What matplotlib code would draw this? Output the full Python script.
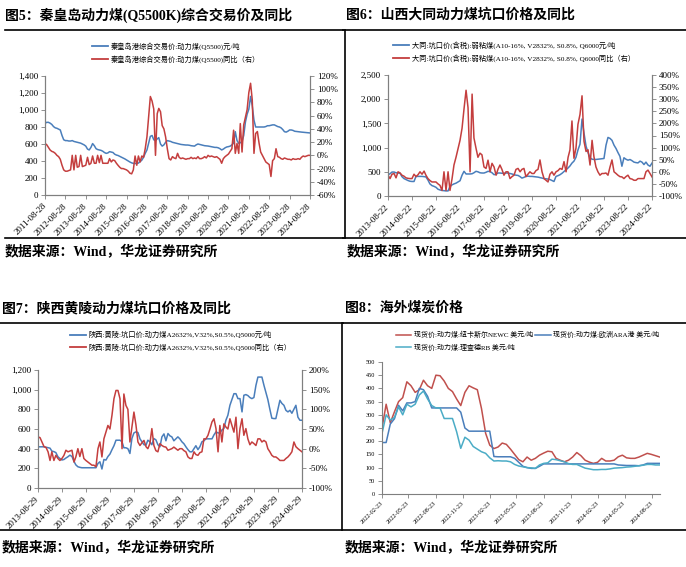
import pandas as pd
import matplotlib
matplotlib.use('Agg')
import matplotlib.pyplot as plt
from matplotlib.lines import Line2D

'''four coal price panels: Qinhuangdao, Datong, Huangling, overseas'''

plt.rcParams['font.family'] = ['Liberation Serif', 'Noto Sans CJK SC']

# ---- fig 5: Qinhuangdao price (yuan/t) and yoy (%), monthly from 2011-08
qhd_price = [
    843, 855, 855, 845, 830, 805, 790, 785, 775, 765, 700, 650,
    640, 640, 635, 635, 640, 630, 625, 620, 615, 610, 600, 590,
    575, 540, 530, 560, 605, 580, 545, 535, 530, 525, 515, 500,
    490, 495, 510, 505, 500, 480, 470, 465, 455, 445, 435, 425,
    412, 400, 388, 378, 372, 370, 372, 375, 392, 410, 443, 490,
    530, 610, 690, 700, 650, 640, 660, 675, 600, 575, 590, 620,
    640, 635, 630, 620, 615, 610, 605, 600, 595, 592, 590, 588,
    588, 585, 580, 578, 575, 590, 600, 595, 590, 585, 580, 578,
    576, 572, 568, 565, 560, 560, 555, 545, 530, 540, 555, 565,
    569, 575, 590, 610, 745, 640, 608, 615, 630, 700, 860, 950,
    1010, 1160, 1050, 880, 800, 800, 800, 800, 800, 800, 805, 815,
    815, 820, 825, 825, 815, 805, 800, 790, 770, 745, 740, 750,
    765, 765, 760, 750, 748, 745, 742, 740, 738, 735, 735, 733,
    730]
qhd_yoy = [
    18, 16, 12, 8, 6, 5, 3, 0, -2, -6, -15, -22,
    -24, -24, -23, -22, 0, -22, 0, -18, -17, 0, -17, -16,
    -15, -3, -14, -12, -1, -12, -12, 0, -11, 0, -12, -12,
    -12, -12, -5, -10, -7, -8, -12, -15, -18, -20, -20, -21,
    -22, -24, -27, -28, -22, -1, -15, -1, -10, -1, -3, 10,
    28, 60, 89, 82, 70, 0, 63, 71, 66, 45, 40, 28,
    10, -5, -7, -2, -4, -5, 3, -3, -5, -4, -5, -6,
    -5, -5, -3, -5, -4, -5, -2, -5, -5, -4, -2, -4,
    0, -2, -1, -2, -3, -2, -4, -6, -12, -5, -2, 0,
    2, 6, 10, 38, 3, 18, 3, 48, 5, 46, 58, 69,
    95, 109, 84, 3, 33, 36, 18, 5, 0, -5, -10, -12,
    -14, -32, -8, -5, 10, -2, -3, -5, -6, -4, -5, -6,
    -6, -7, -5, -6, -6, -5, -6, -3, -1, -2, -1, 0,
    0]

# ---- fig 6: Datong pit-mouth price and yoy, monthly from 2013-08
dt_price = [
    440, 460, 495, 495, 480, 475, 470, 400, 360, 340, 320, 305,
    300, 300, 405, 405, 405, 405, 400, 395, 330, 250, 215, 200,
    180, 140, 125, 115, 110, 105, 105, 195, 230, 250, 265, 290,
    315, 430, 510, 455, 455, 455, 460, 480, 510, 500, 480, 475,
    475, 490, 510, 505, 480, 440, 450, 475, 475, 470, 470, 475,
    475, 465, 455, 440, 430, 425, 400, 370, 385, 405, 410, 405,
    405, 400, 395, 390, 380, 370, 360, 356, 350, 340, 320, 300,
    405, 420, 440, 470, 505, 540, 580, 620, 680, 720, 800, 950,
    1070, 1590, 1300, 1030, 900, 790, 760, 755, 755, 760, 765, 770,
    775, 1050, 1210, 1190, 1150, 1050, 980, 900, 820, 615, 790, 760,
    740, 754, 730, 700, 690, 684, 720, 700, 650, 700, 640, 615,
    680]
dt_yoy = [
    -14, -28, -10, -7, -25, 0, -5, -14, -18, -25, -27, -28,
    -28, -10, -20, -12, 0, -10, 3, -14, -28, -36, -42, -42,
    -42, -50, -56, -77, 0, -77, 0, -77, -30, 28, 60, 95,
    130, 180, 260, 337, 265, 0, 321, 140, 98, 60, 77, 70,
    20, 14, 48, 0, 35, 20, -14, 10, 28, 10, -14, 0,
    0, -28, -20, -14, 10, 14, 0, 10, 14, -20, -10, 0,
    -7, -7, 5, 10, 49, 0, -28, -35, -42, -10, 0, -14,
    0, 5, 14, 10, 42, 0, 60, 90, 210, 56, 98, 196,
    237, 314, 126, 84, 91, 28, 130, 63, 20, 0, -14, -7,
    -7, -5, -14, 20, 49, 0, -7, -14, -20, -21, -28, -20,
    -14, -28, -30, -35, -35, -28, -28, -28, -28, 0, 7, -7,
    -21]

# ---- fig 7: Huangling pit-mouth price and yoy, monthly from 2013-08
hl_price = [
    419, 419, 419, 419, 415, 410, 405, 375, 370, 360, 318, 300,
    285, 290, 305, 318, 334, 320, 270, 235, 216, 210, 206, 206,
    206, 206, 206, 206, 206, 206, 250, 267, 193, 290, 284, 320,
    345, 390, 430, 486, 486, 486, 470, 409, 409, 400, 351, 503,
    560, 571, 564, 500, 470, 440, 436, 486, 470, 440, 503, 490,
    440, 419, 520, 550, 480, 554, 530, 520, 480, 500, 520, 500,
    470, 450, 419, 390, 368, 368, 400, 430, 390, 420, 470, 480,
    500, 500, 500, 500, 540, 571, 560, 560, 590, 605, 690, 740,
    841, 900, 959, 959, 909, 909, 774, 943, 950, 940, 920, 909,
    920, 1044, 1128, 1128, 1128, 1044, 970, 900, 800, 710, 706, 706,
    800, 892, 860, 841, 790, 774, 790, 760, 800, 841, 720, 689,
    689]
hl_yoy = [
    30, 28, 17, 5, 3, -8, -30, -8, -30, -17, -25, -30,
    -25, -17, -4, -8, -6, -4, -34, -21, 0, -20, 0, -25,
    -30, -34, -38, -42, -42, -46, 0, 17, -21, 25, 42, 59,
    50, 85, 127, 148, 148, 127, 0, 139, 110, 100, 17, 55,
    93, 60, 17, 8, 15, 21, 5, 0, 13, 51, 8, -5,
    -8, 13, 8, 5, 4, -4, -2, 0, 4, 0, -4, 0,
    0, -5, -8, -21, -25, -25, -8, -15, -17, -10, -8, 25,
    25, 34, 50, 68, 76, 51, -8, 59, 17, 63, 55, 50,
    76, 59, 42, 80, 0, 51, 76, 34, 51, 25, 10, 17,
    13, 8, 25, 25, 17, 21, 17, 0, -8, -17, -21, -21,
    -25, -30, -30, -30, -25, -21, -15, -8, 17, 5, 0, -4,
    -8]

# ---- fig 8: overseas spot prices (usd/t), every two weeks from 2022-02-23
newc = [250, 340, 270, 311, 350, 365, 425, 410, 385, 395,
        431, 410, 400, 450, 448, 428, 400, 388, 360, 335,
        385, 410, 402, 395, 324, 230, 185, 172, 178, 193,
        188, 170, 150, 130, 122, 140, 128, 135, 147, 155,
        162, 160, 135, 128, 122, 128, 140, 157, 145, 128,
        121, 116, 120, 135, 125, 125, 128, 141, 147, 137,
        135, 135, 140, 147, 154, 150, 145, 140]
ara = [195, 195, 265, 285, 336, 315, 345, 345, 350, 400,
       395, 370, 326, 326, 326, 326, 326, 326, 326, 310,
       250, 238, 238, 238, 238, 238, 238, 142, 141, 141,
       141, 141, 135, 120, 105, 100, 97, 97, 105, 114,
       114, 114, 114, 114, 114, 114, 114, 114, 114, 114,
       114, 114, 114, 114, 114, 114, 114, 110, 109, 108,
       108, 108, 107, 110, 116, 116, 116, 116]
rb = [229, 300, 280, 290, 330, 300, 340, 330, 340, 375,
      390, 360, 335, 326, 326, 286, 286, 286, 236, 173,
      215, 204, 180, 170, 160, 154, 137, 125, 126, 125,
      125, 122, 112, 106, 103, 100, 99, 97, 110, 116,
      118, 132, 130, 126, 122, 115, 112, 112, 105, 98,
      95, 92, 92, 93, 93, 95, 98, 99, 100, 102,
      103, 105, 107, 109, 112, 112, 110, 110]

BLUE = '#4A7EBB'
RED = '#C43E3E'
CYAN = '#4BACC6'
RED8 = '#C0504D'

W, H = 686, 567
fig = plt.figure(figsize=(W / 100, H / 100), dpi=100)


def axes_at(x0, y0, x1, y1):
    ''' axes placed by pixel box (top-left origin) '''
    return fig.add_axes([x0 / W, 1 - y1 / H, (x1 - x0) / W, (y1 - y0) / H])


def hline(x0, x1, y):
    fig.add_artist(Line2D([x0 / W, x1 / W], [1 - y / H, 1 - y / H],
                          color='black', lw=1.2))


def vline(x, y0, y1):
    fig.add_artist(Line2D([x / W, x / W], [1 - y0 / H, 1 - y1 / H],
                          color='black', lw=1.2))


def fig_text(x, y, s, size=10):
    fig.text(x / W, 1 - y / H, s, fontsize=size, fontweight='bold',
             va='center', ha='left')


def style(ax, size):
    ax.spines['top'].set_visible(False)
    for s in ['left', 'right', 'bottom']:
        ax.spines[s].set_color('#7F7F7F')
        ax.spines[s].set_linewidth(0.8)
    ax.tick_params(direction='out', length=3, width=0.6, color='#7F7F7F',
                   labelsize=size, pad=2)


def dual_panel(box, start, price, yoy, ymax, ystep, pmin, pmax, pstep,
               labels, leg_xy):
    dates = pd.date_range(start, periods=len(price), freq=pd.DateOffset(months=1))
    ax = axes_at(*box)
    ax.plot(dates, price, color=BLUE, lw=1.1)
    ax.set_ylim(0, ymax)
    ax.set_yticks(range(0, ymax + 1, ystep))
    ax.set_yticklabels([f'{v:,}' for v in range(0, ymax + 1, ystep)])
    ax2 = ax.twinx()
    ax2.plot(dates, yoy, color=RED, lw=1.1)
    ax2.set_ylim(pmin, pmax)
    ax2.set_yticks(range(pmin, pmax + 1, pstep))
    ax2.set_yticklabels([f'{v}%' for v in range(pmin, pmax + 1, pstep)])
    ticks = pd.date_range(start, periods=12 if dates[-1].year - dates[0].year == 11 else 14,
                          freq=pd.DateOffset(years=1))
    ax.set_xlim(ticks[0], ticks[-1])
    ax.set_xticks(ticks)
    ax.set_xticklabels([t.strftime('%Y-%m-%d') for t in ticks], rotation=45,
                       ha='right', va='center', rotation_mode='anchor')
    style(ax, 6.5)
    style(ax2, 6.5)
    ax.tick_params(axis='x', pad=4)
    handles = [Line2D([], [], color=BLUE, lw=1.3), Line2D([], [], color=RED, lw=1.3)]
    fig.legend(handles, labels, loc='upper left',
               bbox_to_anchor=(leg_xy[0] / W, 1 - leg_xy[1] / H),
               frameon=False, fontsize=5.2, borderpad=0, borderaxespad=0,
               handlelength=2.2, handletextpad=0.4, labelspacing=0.75)


# frame lines
hline(5, 343, 30)
hline(343, 686, 30)
vline(345, 30, 238)
hline(5, 343, 238)
hline(343, 686, 238)
hline(0, 343, 323)
hline(343, 686, 323)
vline(342, 323, 530)
hline(0, 686, 530)

# titles and sources
fig_text(5, 15, '图5：秦皇岛动力煤(Q5500K)综合交易价及同比')
fig_text(346, 15, '图6：山西大同动力煤坑口价格及同比')
fig_text(2, 308, '图7：陕西黄陵动力煤坑口价格及同比')
fig_text(345, 308, '图8：海外煤炭价格')
for sx, sy in [(5, 252), (347, 252), (2, 548), (345, 548)]:
    fig_text(sx, sy, '数据来源：Wind，华龙证券研究所')

dual_panel((45, 76, 310, 195), '2011-08-28', qhd_price, qhd_yoy,
           1400, 200, -60, 120, 20,
           ['秦皇岛港综合交易价:动力煤(Q5500)元/吨',
            '秦皇岛港综合交易价:动力煤(Q5500)同比（右）'], (92, 42))

dual_panel((388, 75, 652, 196), '2013-08-22', dt_price, dt_yoy,
           2500, 500, -100, 400, 50,
           ['大同:坑口价(含税):弱粘煤(A10-16%, V2832%, S0.8%, Q6000元/吨',
            '大同:坑口价(含税):弱粘煤(A10-16%, V2832%, S0.8%, Q6000同比（右）'], (393, 41))

dual_panel((38, 370, 302, 488), '2013-08-29', hl_price, hl_yoy,
           1200, 200, -100, 200, 50,
           ['陕西:黄陵:坑口价:动力煤A2632%,V32%,S0.5%,Q5000元/吨',
            '陕西:黄陵:坑口价:动力煤A2632%,V32%,S0.5%,Q5000同比（右）'], (70, 331))

# fig 8
dates8 = pd.date_range('2022-02-23', periods=len(newc), freq='14D')
ax8 = axes_at(382, 362, 660, 494)
l1, = ax8.plot(dates8, newc, color=RED8, lw=1.1)
l2, = ax8.plot(dates8, ara, color=BLUE, lw=1.1)
l3, = ax8.plot(dates8, rb, color=CYAN, lw=1.1)
ax8.set_ylim(0, 500)
ax8.set_yticks(range(0, 501, 50))
ticks8 = pd.date_range('2022-02-23', periods=11, freq=pd.DateOffset(months=3))
ax8.set_xlim(ticks8[0], pd.Timestamp('2024-09-19'))
ax8.set_xticks(ticks8)
ax8.set_xticklabels([t.strftime('%Y-%m-%d') for t in ticks8], rotation=45,
                    ha='right', va='center', rotation_mode='anchor')
style(ax8, 4.5)
ax8.spines['right'].set_visible(False)
ax8.tick_params(axis='x', pad=3)
fig.legend([l1, l3, l2],
           ['现货价:动力煤:纽卡斯尔NEWC 美元/吨', '现货价:动力煤:理查德RB 美元/吨',
            '现货价:动力煤:欧洲ARA港 美元/吨'],
           loc='upper left', bbox_to_anchor=(396 / W, 1 - 331 / H), ncol=2,
           frameon=False, fontsize=5, borderpad=0, borderaxespad=0,
           handlelength=2.2, handletextpad=0.4, labelspacing=0.75, columnspacing=0.3)

fig.savefig('out.png', dpi=100, facecolor='white')
